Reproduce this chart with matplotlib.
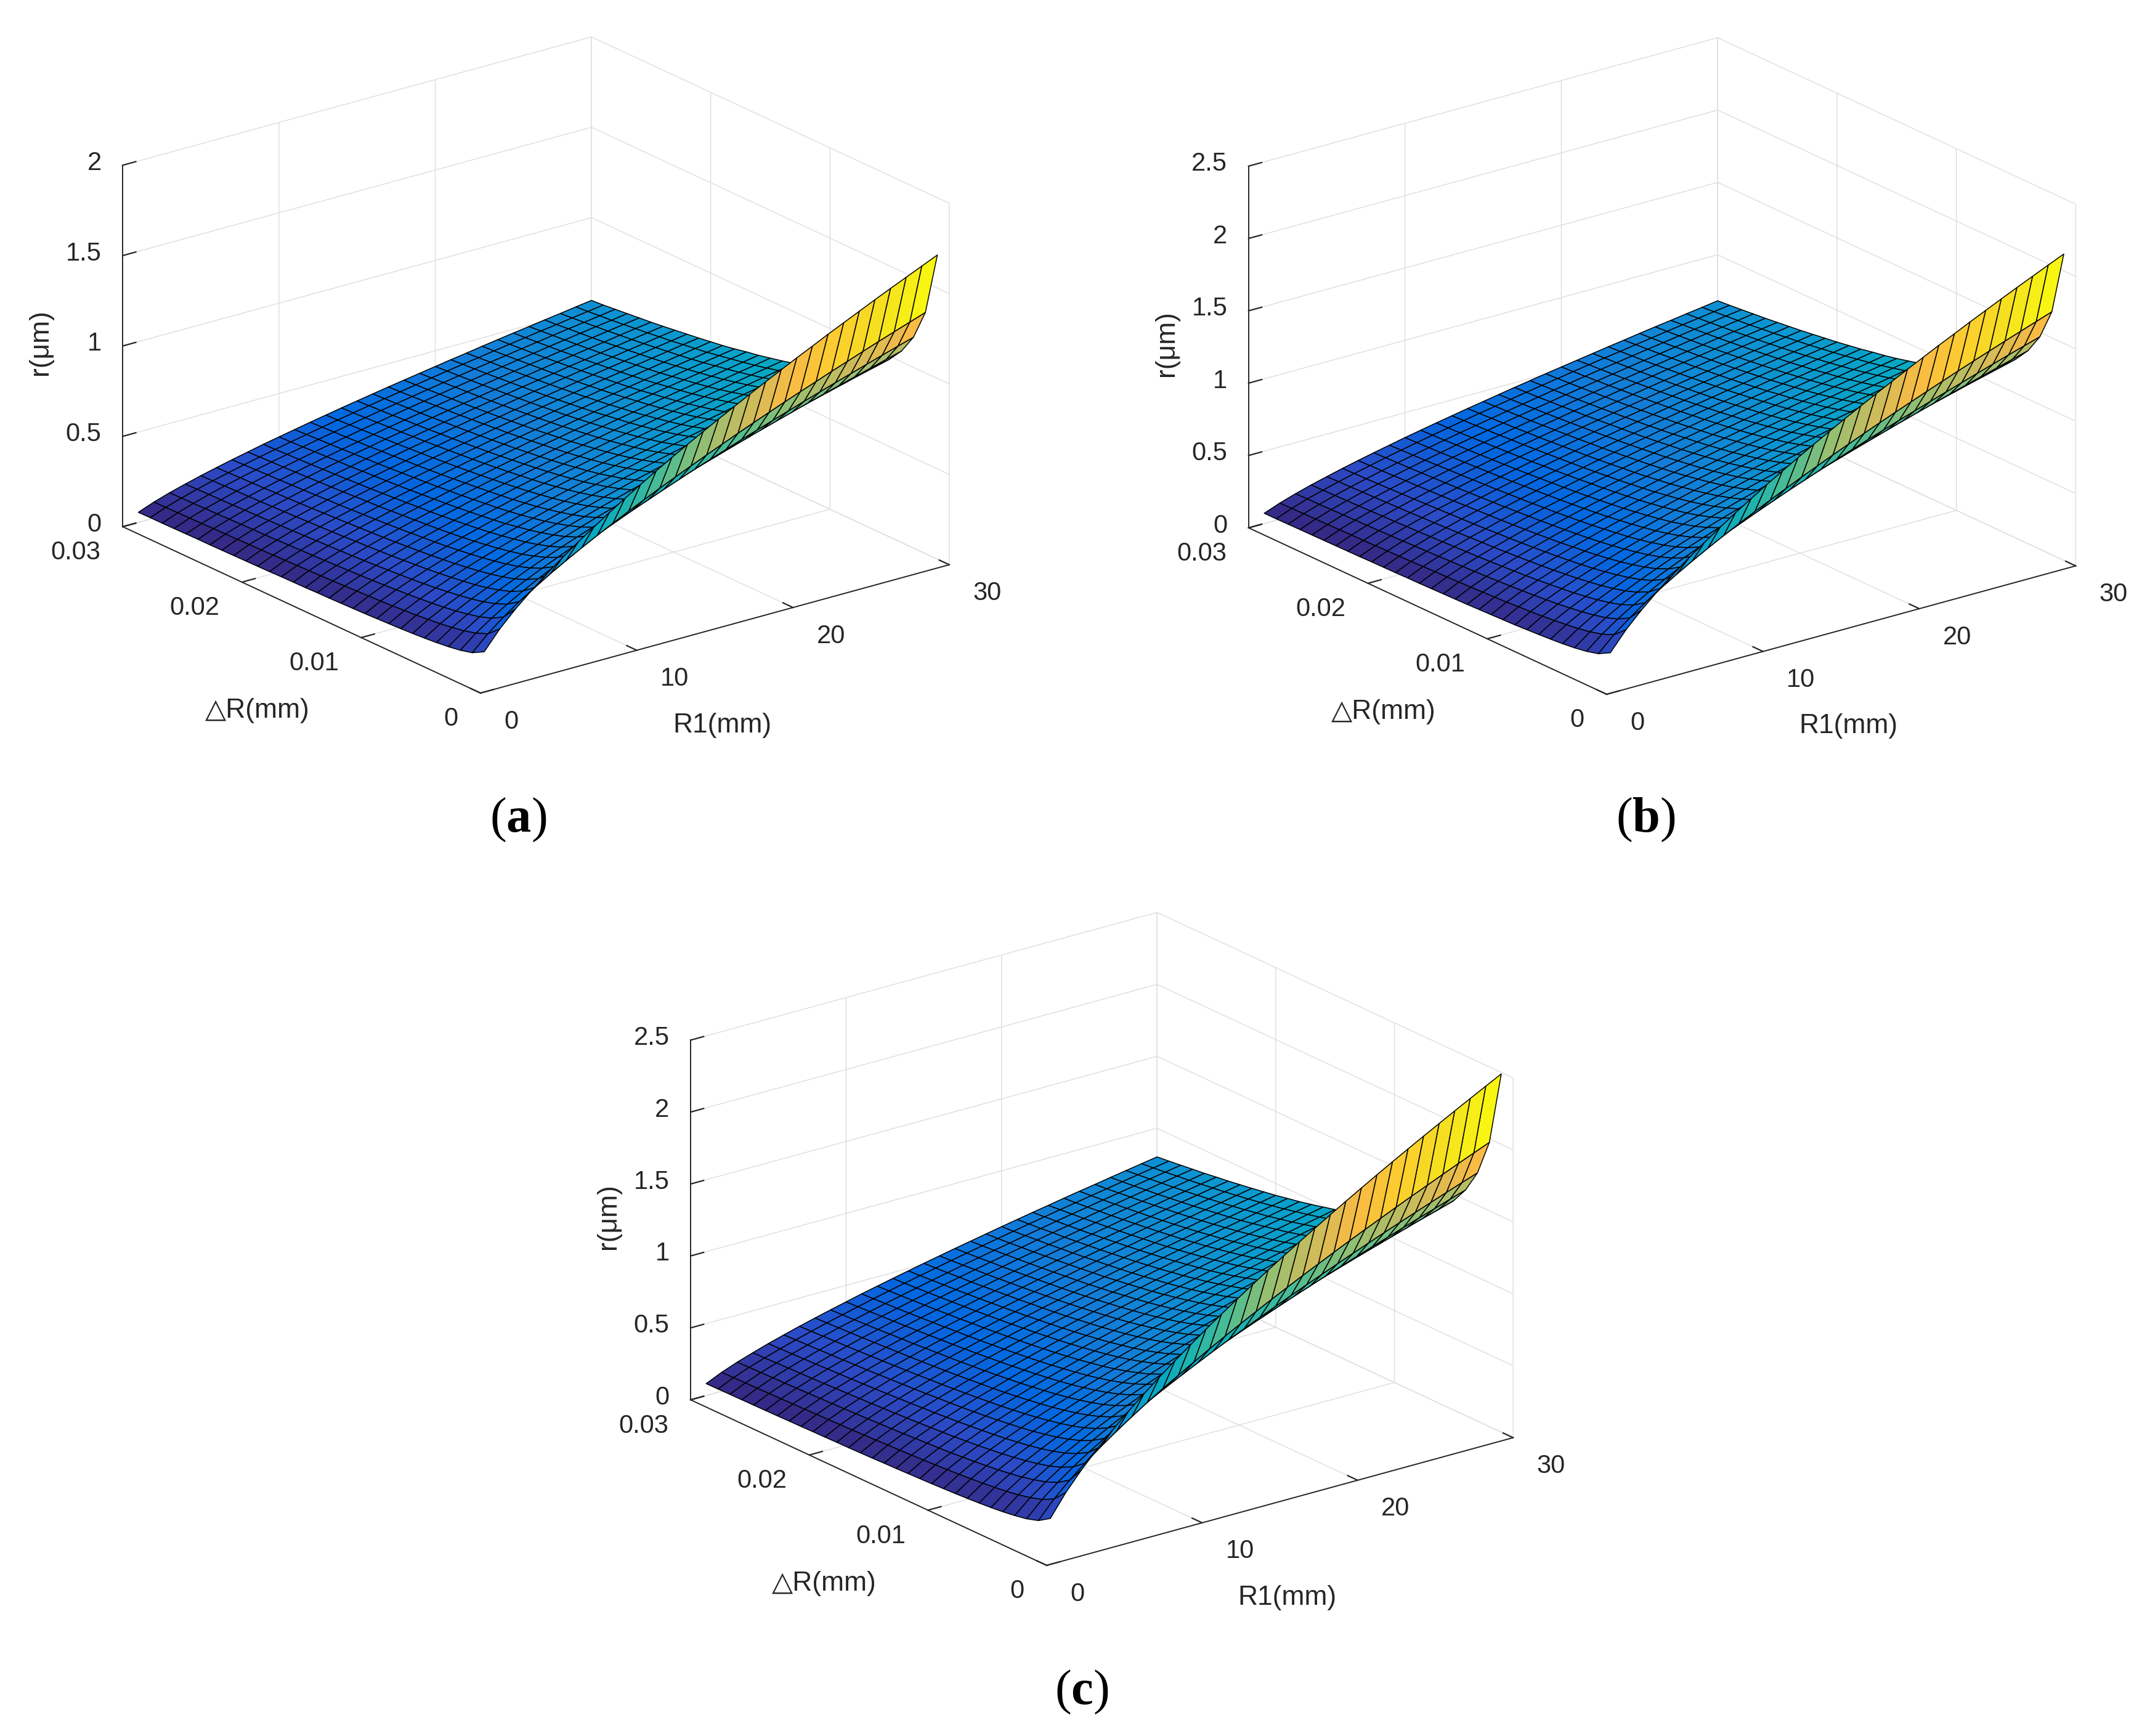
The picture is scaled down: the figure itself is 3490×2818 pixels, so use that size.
#!/usr/bin/env python3
import numpy as np
import matplotlib
matplotlib.use("Agg")
import matplotlib.pyplot as plt
from matplotlib.colors import LinearSegmentedColormap
from matplotlib.transforms import ScaledTranslation
from mpl_toolkits.mplot3d import proj3d

r1_mm = [1, 2, 3, 4, 5, 6, 7, 8, 9, 10, 11, 12, 13, 14, 15,
         16, 17, 18, 19, 20, 21, 22, 23, 24, 25, 26, 27, 28, 29, 30]
dr_mm = [0.001, 0.002, 0.003, 0.004, 0.005, 0.006, 0.007, 0.008, 0.009, 0.010,
         0.011, 0.012, 0.013, 0.014, 0.015, 0.016, 0.017, 0.018, 0.019, 0.020,
         0.021, 0.022, 0.023, 0.024, 0.025, 0.026, 0.027, 0.028, 0.029, 0.030]

# r (um), one row per dR, one column per R1
r_a = [
    [.174,.277,.363,.439,.510,.576,.638,.697,.754,.809,.862,.914,.964,1.013,1.060,1.107,1.152,1.197,1.241,1.284,1.327,1.368,1.410,1.450,1.490,1.530,1.569,1.607,1.645,1.683],
    [.138,.219,.288,.349,.404,.457,.506,.553,.598,.642,.684,.725,.765,.803,.841,.878,.914,.950,.985,1.019,1.053,1.086,1.118,1.151,1.182,1.214,1.245,1.275,1.305,1.335],
    [.121,.192,.251,.305,.354,.399,.442,.484,.523,.561,.598,.634,.668,.702,.735,.768,.799,.830,.861,.891,.920,.949,.978,1.006,1.034,1.061,1.088,1.115,1.141,1.167],
    [.110,.174,.228,.277,.321,.363,.402,.439,.475,.510,.543,.575,.607,.638,.668,.697,.726,.754,.782,.809,.836,.862,.888,.914,.939,.964,.988,1.012,1.036,1.060],
    [.102,.162,.212,.257,.298,.336,.373,.408,.441,.473,.504,.534,.563,.592,.620,.647,.674,.700,.726,.751,.776,.800,.824,.848,.871,.894,.917,.940,.962,.984],
    [.096,.152,.199,.242,.280,.317,.351,.384,.415,.445,.474,.503,.530,.557,.583,.609,.634,.659,.683,.707,.730,.753,.776,.798,.820,.842,.863,.884,.905,.926],
    [.091,.145,.189,.230,.266,.301,.333,.364,.394,.423,.451,.477,.504,.529,.554,.578,.602,.626,.649,.671,.693,.715,.737,.758,.779,.799,.820,.840,.860,.880],
    [.087,.138,.181,.220,.255,.288,.319,.349,.377,.405,.431,.457,.482,.507,.530,.554,.576,.599,.621,.642,.664,.685,.705,.725,.746,.765,.785,.804,.823,.842],
    [.084,.133,.174,.211,.245,.277,.307,.335,.363,.389,.414,.439,.463,.487,.510,.532,.554,.576,.597,.617,.638,.658,.678,.697,.716,.735,.754,.773,.791,.809],
    [.081,.128,.168,.204,.237,.267,.296,.324,.350,.376,.400,.424,.447,.470,.492,.514,.535,.556,.576,.596,.616,.635,.654,.673,.692,.710,.728,.746,.764,.781],
    [.078,.124,.163,.197,.229,.259,.287,.313,.339,.363,.387,.410,.433,.455,.476,.497,.518,.538,.557,.577,.596,.615,.633,.651,.669,.687,.705,.722,.739,.756],
    [.076,.121,.158,.192,.223,.251,.278,.304,.329,.353,.376,.399,.421,.442,.463,.483,.503,.523,.542,.561,.579,.597,.615,.633,.651,.668,.685,.702,.718,.735],
    [.074,.118,.154,.187,.217,.245,.271,.296,.321,.344,.366,.388,.410,.430,.451,.471,.490,.509,.528,.546,.564,.582,.599,.617,.634,.650,.667,.683,.699,.715],
    [.072,.115,.150,.182,.211,.239,.265,.289,.313,.336,.358,.379,.400,.420,.440,.459,.478,.497,.515,.533,.550,.568,.585,.602,.618,.634,.651,.667,.682,.698],
    [.071,.112,.147,.178,.207,.233,.259,.283,.306,.328,.350,.371,.391,.411,.430,.449,.467,.486,.503,.521,.538,.555,.572,.588,.604,.620,.636,.652,.667,.683],
    [.069,.110,.144,.174,.202,.228,.253,.277,.299,.321,.342,.363,.383,.402,.421,.439,.457,.475,.493,.510,.527,.543,.560,.576,.592,.607,.623,.638,.653,.668],
    [.068,.108,.141,.171,.199,.224,.248,.272,.294,.315,.336,.356,.375,.394,.413,.431,.449,.466,.483,.500,.517,.533,.549,.565,.581,.596,.611,.626,.641,.656],
    [.067,.106,.138,.168,.194,.220,.243,.266,.288,.309,.329,.349,.368,.386,.404,.422,.440,.457,.473,.490,.506,.522,.538,.553,.569,.584,.599,.613,.628,.642],
    [.065,.104,.136,.165,.191,.216,.239,.261,.283,.303,.323,.342,.361,.379,.397,.415,.432,.448,.465,.481,.497,.513,.528,.543,.558,.573,.588,.602,.616,.630],
    [.064,.102,.134,.162,.188,.212,.235,.257,.278,.298,.318,.336,.355,.373,.390,.408,.424,.441,.457,.473,.489,.504,.519,.534,.549,.563,.578,.592,.606,.620],
    [.063,.100,.131,.159,.185,.209,.231,.253,.273,.293,.313,.331,.349,.367,.384,.401,.418,.434,.450,.466,.481,.496,.511,.526,.540,.555,.569,.583,.597,.610],
    [.062,.099,.129,.157,.182,.205,.228,.249,.269,.289,.308,.326,.344,.361,.378,.395,.411,.427,.443,.458,.473,.488,.503,.518,.532,.546,.560,.574,.587,.601],
    [.061,.097,.128,.154,.179,.202,.224,.245,.265,.285,.303,.321,.339,.356,.373,.389,.405,.421,.436,.452,.467,.481,.496,.510,.524,.538,.552,.565,.579,.592],
    [.060,.096,.126,.152,.177,.199,.221,.242,.261,.280,.299,.317,.334,.351,.367,.384,.399,.415,.430,.445,.460,.474,.488,.503,.516,.530,.544,.557,.570,.583],
    [.060,.095,.124,.150,.174,.197,.218,.238,.258,.277,.295,.312,.330,.346,.362,.378,.394,.409,.424,.439,.454,.468,.482,.496,.510,.523,.536,.550,.563,.575],
    [.059,.093,.122,.148,.172,.194,.215,.235,.254,.273,.291,.308,.325,.342,.358,.373,.389,.404,.419,.433,.448,.462,.476,.489,.503,.516,.529,.542,.555,.568],
    [.058,.092,.121,.146,.170,.192,.213,.232,.251,.270,.287,.304,.321,.337,.353,.369,.384,.399,.414,.428,.442,.456,.470,.483,.497,.510,.523,.536,.548,.561],
    [.057,.091,.119,.145,.168,.190,.210,.230,.248,.266,.284,.301,.317,.333,.349,.364,.379,.394,.409,.423,.437,.451,.464,.478,.491,.504,.517,.529,.542,.554],
    [.057,.090,.118,.143,.166,.187,.207,.227,.245,.263,.280,.297,.313,.329,.345,.360,.375,.389,.404,.418,.432,.445,.459,.472,.485,.498,.510,.523,.535,.547],
    [.056,.089,.117,.141,.164,.185,.205,.224,.243,.260,.277,.294,.310,.326,.341,.356,.371,.385,.399,.413,.427,.440,.454,.467,.480,.492,.505,.517,.530,.542],
]
r_b = [
    [.219,.348,.456,.553,.641,.724,.802,.877,.949,1.018,1.085,1.149,1.212,1.274,1.334,1.393,1.450,1.506,1.561,1.616,1.669,1.722,1.773,1.825,1.875,1.925,1.974,2.022,2.070,2.117],
    [.174,.276,.362,.438,.509,.575,.637,.696,.753,.808,.861,.912,.962,1.011,1.058,1.105,1.150,1.195,1.239,1.282,1.324,1.366,1.407,1.448,1.488,1.527,1.566,1.604,1.642,1.680],
    [.152,.241,.316,.383,.445,.502,.557,.608,.658,.706,.752,.797,.841,.884,.925,.966,1.006,1.045,1.083,1.121,1.158,1.194,1.230,1.265,1.300,1.335,1.369,1.403,1.436,1.469],
    [.138,.219,.287,.348,.404,.456,.506,.553,.598,.642,.684,.724,.764,.803,.841,.878,.914,.949,.984,1.018,1.052,1.085,1.118,1.150,1.182,1.213,1.244,1.274,1.304,1.334],
    [.128,.203,.267,.323,.375,.423,.469,.513,.555,.595,.634,.672,.709,.745,.780,.814,.848,.880,.913,.945,.976,1.007,1.037,1.067,1.096,1.125,1.154,1.182,1.210,1.238],
    [.121,.192,.251,.304,.353,.399,.442,.483,.522,.560,.597,.633,.667,.701,.734,.766,.798,.829,.859,.889,.919,.948,.976,1.004,1.032,1.059,1.086,1.113,1.139,1.165],
    [.115,.182,.239,.289,.335,.379,.420,.459,.496,.532,.567,.601,.634,.666,.698,.728,.758,.788,.817,.845,.873,.901,.928,.954,.981,1.007,1.032,1.058,1.083,1.107],
    [.110,.174,.228,.276,.321,.362,.401,.439,.475,.509,.543,.575,.607,.637,.667,.697,.725,.753,.781,.808,.835,.861,.887,.913,.938,.963,.987,1.012,1.035,1.059],
    [.105,.167,.219,.266,.308,.348,.386,.422,.456,.489,.521,.552,.583,.612,.641,.669,.697,.724,.750,.777,.802,.827,.852,.877,.901,.925,.949,.972,.995,1.018],
    [.102,.162,.212,.257,.298,.336,.372,.407,.440,.473,.504,.534,.563,.591,.619,.646,.673,.699,.725,.750,.775,.799,.823,.847,.870,.893,.916,.939,.961,.983],
    [.099,.156,.205,.248,.288,.326,.361,.394,.427,.458,.488,.517,.545,.573,.600,.626,.652,.677,.702,.726,.751,.774,.797,.820,.843,.865,.887,.909,.931,.952],
    [.096,.152,.199,.241,.280,.316,.351,.383,.415,.445,.474,.502,.530,.557,.583,.608,.633,.658,.682,.706,.729,.752,.775,.797,.819,.841,.862,.883,.904,.925],
    [.093,.148,.194,.235,.273,.308,.341,.373,.403,.433,.461,.488,.515,.541,.567,.592,.616,.640,.664,.687,.709,.732,.754,.775,.797,.818,.839,.859,.880,.900],
    [.091,.144,.189,.229,.266,.300,.333,.364,.394,.422,.450,.477,.503,.529,.553,.578,.602,.625,.648,.670,.693,.714,.736,.757,.778,.799,.819,.839,.859,.879],
    [.089,.141,.185,.224,.260,.294,.325,.356,.385,.413,.440,.466,.492,.516,.541,.565,.588,.611,.633,.655,.677,.698,.719,.740,.760,.780,.800,.820,.839,.858],
    [.087,.138,.181,.219,.254,.287,.318,.348,.376,.404,.430,.456,.481,.505,.529,.552,.575,.598,.619,.641,.662,.683,.704,.724,.744,.764,.783,.802,.821,.840],
    [.085,.136,.178,.215,.250,.282,.312,.342,.370,.396,.422,.448,.472,.496,.519,.542,.565,.587,.608,.629,.650,.670,.691,.711,.730,.749,.769,.787,.806,.825],
    [.084,.133,.174,.211,.245,.276,.306,.335,.362,.389,.414,.439,.463,.486,.509,.531,.553,.575,.596,.617,.637,.657,.677,.696,.716,.735,.753,.772,.790,.808],
    [.082,.130,.171,.207,.240,.271,.301,.329,.356,.382,.407,.431,.454,.477,.500,.522,.543,.565,.585,.606,.626,.645,.665,.684,.703,.721,.740,.758,.776,.794],
    [.081,.128,.168,.204,.236,.267,.296,.323,.350,.375,.400,.423,.447,.469,.491,.513,.534,.555,.575,.595,.615,.634,.653,.672,.691,.709,.727,.745,.763,.780],
    [.080,.126,.165,.200,.232,.263,.291,.318,.344,.369,.393,.417,.440,.462,.484,.505,.526,.546,.566,.586,.605,.624,.643,.661,.680,.698,.716,.733,.750,.768],
    [.078,.124,.163,.197,.229,.259,.286,.313,.339,.363,.387,.410,.433,.455,.476,.497,.518,.538,.557,.577,.596,.615,.633,.651,.669,.687,.705,.722,.739,.756],
    [.077,.122,.160,.194,.225,.255,.282,.308,.334,.358,.381,.404,.426,.448,.469,.490,.510,.530,.549,.568,.587,.605,.624,.641,.659,.677,.694,.711,.728,.744],
    [.076,.121,.158,.192,.222,.251,.278,.304,.329,.353,.376,.398,.420,.441,.462,.483,.502,.522,.541,.560,.579,.597,.615,.632,.650,.667,.684,.701,.717,.734],
    [.075,.119,.156,.189,.219,.248,.274,.300,.325,.348,.371,.393,.415,.436,.456,.476,.496,.515,.534,.553,.571,.589,.607,.624,.641,.658,.675,.692,.708,.724],
    [.074,.117,.154,.186,.216,.244,.271,.296,.320,.344,.366,.388,.409,.430,.450,.470,.489,.508,.527,.545,.563,.581,.598,.616,.633,.649,.666,.682,.698,.714],
    [.073,.116,.152,.184,.214,.241,.267,.292,.316,.339,.362,.383,.404,.425,.445,.464,.483,.502,.520,.539,.556,.574,.591,.608,.625,.642,.658,.674,.690,.706],
    [.072,.115,.150,.182,.211,.238,.264,.289,.312,.335,.357,.378,.399,.419,.439,.458,.477,.496,.514,.532,.550,.567,.584,.601,.617,.634,.650,.666,.682,.697],
    [.071,.113,.149,.180,.209,.236,.261,.286,.309,.331,.353,.374,.395,.415,.434,.453,.472,.490,.508,.526,.544,.561,.577,.594,.610,.627,.643,.658,.674,.689],
    [.071,.112,.147,.178,.206,.233,.258,.282,.305,.328,.349,.370,.390,.410,.429,.448,.467,.485,.503,.520,.537,.554,.571,.587,.604,.620,.635,.651,.666,.682],
]
r_c = [
    [.258,.409,.536,.650,.754,.852,.944,1.032,1.116,1.197,1.276,1.352,1.426,1.498,1.569,1.638,1.705,1.771,1.836,1.900,1.963,2.025,2.086,2.146,2.205,2.263,2.321,2.378,2.434,2.490],
    [.205,.325,.426,.516,.599,.676,.749,.819,.886,.950,1.012,1.073,1.132,1.189,1.245,1.300,1.353,1.406,1.457,1.508,1.558,1.607,1.655,1.703,1.750,1.796,1.842,1.888,1.932,1.976],
    [.179,.284,.372,.451,.523,.590,.654,.715,.774,.830,.884,.937,.989,1.039,1.087,1.135,1.182,1.228,1.273,1.317,1.361,1.404,1.446,1.488,1.529,1.569,1.609,1.649,1.688,1.726],
    [.163,.258,.338,.410,.475,.537,.595,.650,.703,.754,.804,.852,.898,.944,.988,1.032,1.074,1.116,1.157,1.197,1.237,1.276,1.314,1.352,1.389,1.426,1.463,1.498,1.534,1.569],
    [.151,.239,.314,.380,.441,.498,.552,.603,.653,.700,.746,.790,.834,.876,.917,.958,.997,1.036,1.074,1.111,1.148,1.184,1.220,1.255,1.289,1.323,1.357,1.391,1.423,1.456],
    [.142,.225,.295,.358,.415,.469,.519,.568,.614,.659,.702,.744,.785,.824,.863,.901,.938,.975,1.010,1.046,1.080,1.114,1.148,1.181,1.213,1.245,1.277,1.308,1.339,1.370],
    [.135,.214,.280,.340,.394,.445,.493,.539,.583,.626,.667,.706,.745,.783,.820,.856,.891,.926,.960,.993,1.026,1.058,1.090,1.122,1.153,1.183,1.213,1.243,1.272,1.301],
    [.129,.205,.268,.325,.377,.426,.472,.516,.558,.599,.638,.676,.713,.749,.785,.819,.853,.886,.918,.950,.982,1.013,1.043,1.073,1.103,1.132,1.161,1.190,1.218,1.245],
    [.124,.197,.258,.312,.363,.409,.454,.496,.537,.576,.613,.650,.686,.720,.754,.787,.820,.852,.883,.914,.944,.974,1.003,1.032,1.060,1.088,1.116,1.143,1.170,1.197],
    [.120,.190,.249,.302,.350,.395,.438,.479,.518,.556,.592,.627,.662,.695,.728,.760,.791,.822,.852,.882,.911,.940,.968,.996,1.023,1.050,1.077,1.104,1.130,1.156],
    [.116,.184,.241,.292,.339,.383,.424,.464,.502,.538,.573,.607,.641,.673,.705,.736,.766,.796,.825,.854,.882,.910,.937,.964,.991,1.017,1.043,1.069,1.094,1.119],
    [.113,.179,.234,.284,.330,.372,.412,.451,.488,.523,.557,.591,.623,.655,.685,.716,.745,.774,.802,.830,.858,.885,.911,.938,.964,.989,1.014,1.039,1.064,1.088],
    [.110,.174,.228,.276,.321,.362,.401,.439,.475,.509,.543,.575,.607,.637,.667,.697,.725,.753,.781,.808,.835,.861,.887,.913,.938,.963,.987,1.012,1.035,1.059],
    [.107,.170,.223,.270,.313,.353,.392,.428,.463,.497,.529,.561,.592,.622,.651,.679,.707,.735,.762,.788,.814,.840,.865,.890,.915,.939,.963,.987,1.010,1.033],
    [.105,.166,.218,.264,.306,.345,.383,.418,.453,.486,.517,.548,.578,.608,.636,.664,.692,.718,.745,.771,.796,.821,.846,.870,.894,.918,.941,.965,.987,1.010],
    [.102,.163,.213,.258,.299,.338,.375,.410,.443,.475,.506,.537,.566,.595,.623,.650,.677,.703,.729,.754,.779,.804,.828,.852,.876,.899,.922,.944,.967,.989],
    [.100,.159,.209,.253,.294,.332,.367,.402,.434,.466,.497,.526,.555,.583,.611,.638,.664,.690,.715,.740,.764,.788,.812,.835,.858,.881,.904,.926,.948,.969],
    [.098,.156,.205,.248,.288,.325,.360,.394,.426,.457,.487,.516,.544,.572,.598,.625,.651,.676,.701,.725,.749,.773,.796,.819,.841,.864,.886,.907,.929,.950],
    [.097,.153,.201,.244,.283,.319,.354,.387,.418,.449,.478,.507,.535,.562,.588,.614,.639,.664,.689,.712,.736,.759,.782,.805,.827,.849,.870,.892,.913,.934],
    [.095,.151,.198,.239,.278,.314,.348,.380,.411,.441,.470,.498,.525,.552,.578,.603,.628,.652,.676,.700,.723,.746,.768,.790,.812,.834,.855,.876,.897,.917],
    [.094,.148,.194,.236,.273,.309,.342,.374,.405,.434,.462,.490,.517,.543,.569,.594,.618,.642,.666,.689,.712,.734,.756,.778,.799,.821,.842,.862,.883,.903],
    [.092,.146,.192,.232,.269,.304,.337,.368,.399,.428,.456,.483,.509,.535,.560,.585,.609,.633,.656,.679,.701,.723,.745,.766,.787,.808,.829,.849,.869,.889],
    [.091,.144,.189,.229,.265,.299,.332,.363,.392,.421,.449,.475,.501,.527,.552,.576,.600,.623,.646,.668,.690,.712,.733,.755,.775,.796,.816,.836,.856,.876],
    [.089,.142,.186,.225,.261,.295,.327,.358,.387,.415,.442,.469,.494,.519,.544,.568,.591,.614,.637,.659,.681,.702,.723,.744,.764,.785,.805,.824,.844,.863],
    [.088,.140,.183,.222,.258,.291,.323,.353,.382,.409,.436,.462,.488,.512,.536,.560,.583,.606,.628,.650,.671,.692,.713,.734,.754,.774,.794,.813,.833,.852],
    [.087,.138,.181,.219,.254,.287,.318,.348,.376,.404,.430,.456,.481,.505,.529,.552,.575,.598,.619,.641,.662,.683,.704,.724,.744,.764,.783,.802,.821,.840],
    [.086,.136,.179,.217,.251,.284,.315,.344,.372,.399,.425,.451,.475,.500,.523,.546,.569,.591,.612,.634,.655,.675,.695,.716,.735,.755,.774,.793,.812,.830],
    [.085,.135,.177,.214,.248,.280,.311,.340,.367,.394,.420,.445,.469,.493,.516,.539,.561,.583,.604,.626,.646,.667,.687,.706,.726,.745,.764,.783,.801,.820],
    [.084,.133,.175,.211,.245,.277,.307,.336,.363,.389,.415,.440,.464,.487,.510,.533,.555,.576,.597,.618,.639,.659,.679,.698,.717,.736,.755,.774,.792,.810],
    [.083,.132,.173,.209,.243,.274,.304,.332,.359,.385,.411,.435,.459,.482,.505,.527,.549,.570,.591,.612,.632,.652,.671,.691,.710,.728,.747,.765,.783,.801],
]
r1_ticks = [0, 10, 20, 30]
dr_ticks = [0, 0.01, 0.02, 0.03]
dr_labels = ["0", "0.01", "0.02", "0.03"]
z_ticks_a = [0, 0.5, 1, 1.5, 2]
z_labels_a = ["0", "0.5", "1", "1.5", "2"]
z_ticks_bc = [0, 0.5, 1, 1.5, 2, 2.5]
z_labels_bc = ["0", "0.5", "1", "1.5", "2", "2.5"]

parula_colors = [(.2081, .1663, .5292), (.1707, .2919, .7792), (.0060, .4086, .8828),
                 (.0723, .4887, .8467), (.0488, .5772, .8228), (.0228, .6535, .7768),
                 (.1133, .7015, .6859), (.3022, .7376, .5712), (.5709, .7485, .4494),
                 (.7858, .7356, .3633), (.9739, .7314, .2666), (.9880, .8066, .1794),
                 (.9589, .8949, .1132), (.9763, .9831, .0538)]
parula = LinearSegmentedColormap.from_list("parula", parula_colors)

W, H = 3490, 2818
plt.rcParams["font.family"] = ["Liberation Sans", "DejaVu Sans"]
plt.rcParams["grid.color"] = "0.88"
plt.rcParams["grid.linewidth"] = 0.55
plt.rcParams["mathtext.fontset"] = "custom"
plt.rcParams["mathtext.rm"] = "Liberation Serif"
plt.rcParams["mathtext.bf"] = "Liberation Serif:bold"

fig = plt.figure(figsize=(W / 200, H / 200), dpi=200)


def place_axes(ax, origin, right):
    # scale and shift the square axes so the floor edge lands on origin -> right (image px)
    size = 0.4 * W
    left0, bottom0 = 0.3 * W, 0.3 * H
    ax.set_position([left0 / W, bottom0 / H, size / W, size / H])
    ax.apply_aspect()
    M = ax.get_proj()
    pts = []
    for x in (0, 30):
        tx, ty, _ = proj3d.proj_transform(x, 0, 0, M)
        pts.append(ax.transData.transform((tx, ty)))
    k = np.hypot(right[0] - origin[0], right[1] - origin[1]) / np.hypot(*(pts[1] - pts[0]))
    left = origin[0] - (pts[0][0] - left0) * k
    bottom = (H - origin[1]) - (pts[0][1] - bottom0) * k
    ax.set_position([left / W, bottom / H, size * k / W, size * k / H])


def shift_ticklabels(ax, axis, dx, dy, ha):
    # offset in image px, y up; Axis3D puts transData back on every draw, so block that
    for tick in axis.get_major_ticks():
        tick.label1.set_ha(ha)
        tick.label1.set_transform(ax.transData + ScaledTranslation(dx / 200, dy / 200, fig.dpi_scale_trans))
        tick.label1.set_transform = lambda t: None


def draw_panel(r_table, z_max, z_ticks, z_labels, origin, right, caption, cap_xy):
    ax = fig.add_subplot(projection="3d", proj_type="ortho")
    ax.set_facecolor("none")
    X, Y = np.meshgrid(r1_mm, dr_mm)
    Z = np.array(r_table)
    # flat faces coloured from their first corner, as MATLAB surf does
    face_colors = parula((Z - Z.min()) / (Z.max() - Z.min()))
    ax.plot_surface(X, Y, Z, facecolors=face_colors, shade=False, rstride=1, cstride=1,
                    edgecolor="k", linewidth=0.55, antialiased=True)
    ax.set_xlim(0, 30, view_margin=0)
    ax.set_ylim(0, 0.03, view_margin=0)
    ax.set_zlim(0, z_max, view_margin=0)
    ax.set_xticks(r1_ticks)
    ax.set_yticks(dr_ticks, labels=dr_labels)
    ax.set_zticks(z_ticks, labels=z_labels)
    ax.view_init(elev=20.9, azim=-127.5)
    ax.set_box_aspect((959, 954, 628))

    for axis in (ax.xaxis, ax.yaxis, ax.zaxis):
        axis.set_pane_color((1, 1, 1, 0))
        axis.pane.set_edgecolor("0.88")
        axis.pane.set_linewidth(0.55)
        axis.line.set_color("0.15")
        axis.line.set_linewidth(0.7)
        axis._axinfo["tick"]["inward_factor"] = 0
        axis._axinfo["tick"]["outward_factor"] = 0.35
        axis._axinfo["tick"]["color"] = "0.15"
        axis.set_tick_params(labelsize=15, labelcolor="0.15", color="0.15", pad=2, width=0.7)
        axis.set_rotate_label(False)
    ax.set_xlabel("R1(mm)", fontsize=16, color="0.15", labelpad=22)
    ax.set_ylabel("△R(mm)", fontsize=16, color="0.15", labelpad=35)
    ax.set_zlabel("r(μm)", fontsize=16, color="0.15", labelpad=6, rotation=90)
    ax.xaxis._axinfo["label"].update(ha="right", va="top")
    ax.yaxis._axinfo["label"].update(ha="left", va="center")
    shift_ticklabels(ax, ax.xaxis, 17, 5, "left")
    shift_ticklabels(ax, ax.yaxis, -8, 7, "right")
    shift_ticklabels(ax, ax.zaxis, 15, 21, "right")
    place_axes(ax, origin, right)
    fig.text(cap_xy[0] / W, 1 - cap_xy[1] / H, caption, fontsize=29, ha="center", va="center")


draw_panel(r_a, 2, z_ticks_a, z_labels_a, (780, 1125), (1541, 917),
           r"$\mathrm{(}\mathbf{a}\mathrm{)}$", (841, 1331))
draw_panel(r_b, 2.5, z_ticks_bc, z_labels_bc, (2608, 1127), (3369, 917),
           r"$\mathrm{(}\mathbf{b}\mathrm{)}$", (2671, 1331))
draw_panel(r_c, 2.5, z_ticks_bc, z_labels_bc, (1699, 2541), (2456, 2333),
           r"$\mathrm{(}\mathbf{c}\mathrm{)}$", (1756, 2747))

fig.savefig("out.png", dpi=200)
